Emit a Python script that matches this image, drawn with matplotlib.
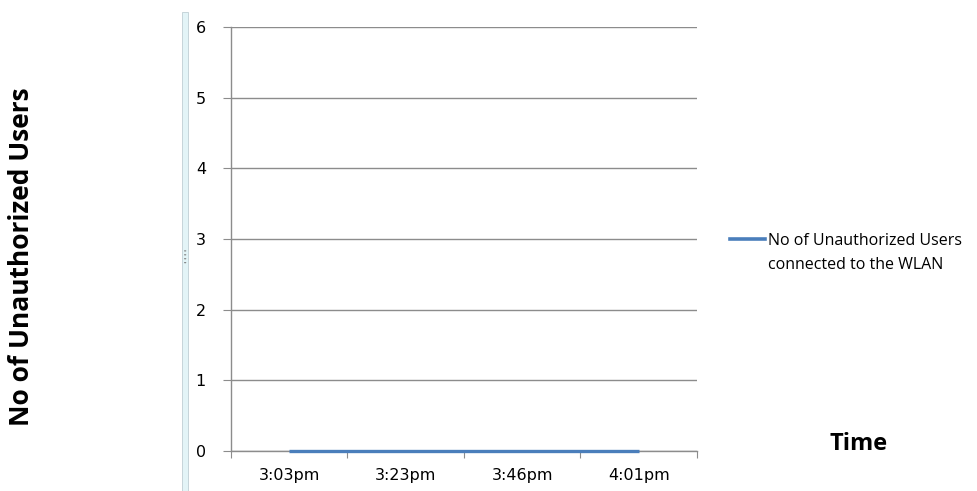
import matplotlib.pyplot as plt
import matplotlib.patches as mpatches
from matplotlib.lines import Line2D

# data
times = ['3:03pm', '3:23pm', '3:46pm', '4:01pm']
users = [0, 0, 0, 0]
y_ticks = [0, 1, 2, 3, 4, 5, 6]
series_label = ['No of Unauthorized Users', 'connected to the WLAN']

grid_col = '#8c8c8c'
line_col = '#4a7ebb'

fig = plt.figure(figsize=(9.77, 4.91), dpi=100)
ax = fig.add_axes([0.2364, 0.0815, 0.477, 0.8635])

x = list(range(len(times)))
ax.plot(x, users, color=line_col, linewidth=2.4, solid_capstyle='butt',
        clip_on=False, zorder=5)

ax.set_xlim(-0.5, len(times) - 0.5)
ax.set_ylim(0, 6)
ax.set_yticks(y_ticks)
ax.yaxis.grid(True, color=grid_col, linewidth=1)
ax.set_axisbelow(True)

# category boundaries as major ticks, labels on minor ticks
ax.set_xticks([i - 0.5 for i in range(len(times) + 1)])
ax.set_xticklabels([])
ax.set_xticks(x, minor=True)
ax.set_xticklabels(times, minor=True, fontsize=11.5, fontfamily='DejaVu Sans')
ax.tick_params(axis='x', which='major', length=5, color=grid_col, direction='out')
ax.tick_params(axis='x', which='minor', length=0, pad=12)
ax.tick_params(axis='y', length=6, color=grid_col, labelsize=11.5, pad=12)

for s in ['top', 'right']:
    ax.spines[s].set_visible(False)
for s in ['left', 'bottom']:
    ax.spines[s].set_color(grid_col)
    ax.spines[s].set_linewidth(1)

# legend: handle sits on the first text line
handles = [Line2D([], [], color=line_col, linewidth=2.6),
           Line2D([], [], color='none')]
ax.legend(handles, series_label, loc='upper left', bbox_to_anchor=(1.071, 0.515),
          frameon=False, handlelength=2.2, handletextpad=0.15, labelspacing=0.55,
          borderaxespad=0, borderpad=0, prop={'family': 'Open Sans', 'size': 11.5})

# axis titles placed like the original
fig.text(0.0225, 0.477, 'No of Unauthorized Users', rotation=90, fontsize=19,
         fontweight='bold', fontfamily='Open Sans', ha='center', va='center')
fig.text(0.879, 0.095, 'Time', fontsize=17, fontweight='bold',
         fontfamily='Open Sans', ha='center', va='center')

# pale splitter bar at the left of the plot area
fig.patches.append(mpatches.Rectangle((0.1865, 0.0), 0.006, 0.975, transform=fig.transFigure,
                                      facecolor='#e3f4f7', edgecolor='#c0cfd4', linewidth=0.6))
for yy in [0.465, 0.473, 0.481, 0.489]:
    fig.patches.append(mpatches.Circle((0.1895, yy), 0.0012, transform=fig.transFigure,
                                       facecolor='#777777', edgecolor='none'))

fig.savefig('out.png', dpi=100)
